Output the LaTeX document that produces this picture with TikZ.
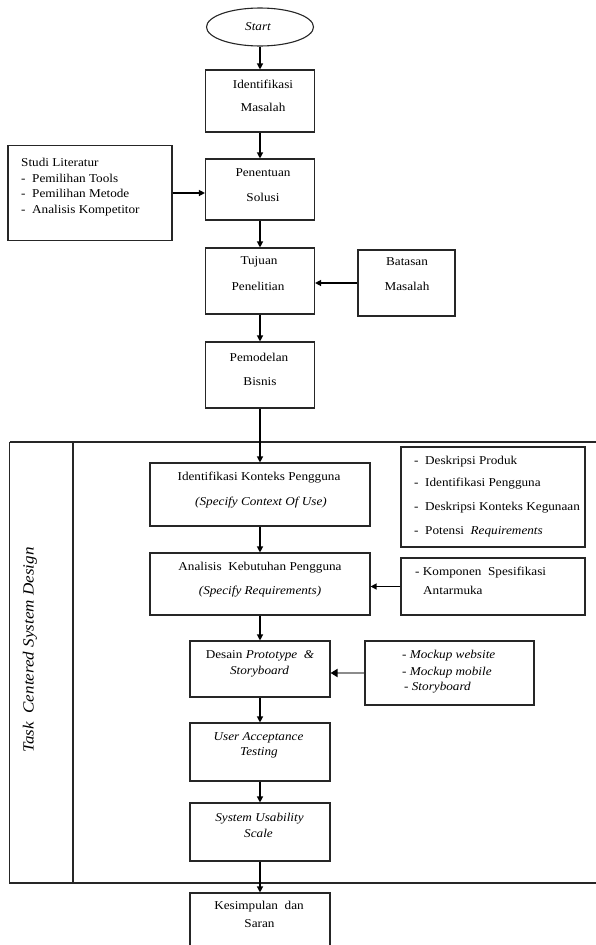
\documentclass[tikz,border=0pt]{standalone}
\usepackage{fontspec}
\setmainfont{Liberation Serif}[FakeStretch=1.1]
\usetikzlibrary{arrows.meta,shapes.geometric}
\tikzset{
  box/.style={draw=black!85, line width=1.1pt, minimum width=#1, inner sep=0pt},
  arr/.style={line width=1.2pt, -{Triangle[length=6pt,width=6pt]}},
  txt/.style={inner sep=0pt, font=\fontsize{12}{14}\selectfont},
  itxt/.style={inner sep=0pt, font=\fontsize{12}{14}\selectfont\itshape},
  ltxt/.style={inner sep=0pt, anchor=west, font=\fontsize{12}{14}\selectfont},
}
\begin{document}
\begin{tikzpicture}[x=1pt,y=-1pt]
\useasboundingbox (0,0) rectangle (596,945);
% frame
\draw[line width=1.1pt, draw=black!85] (9.5,442) -- (605,442);
\draw[line width=1.1pt, draw=black!85] (9.5,442) -- (9.5,883) -- (605,883);
\draw[line width=1.1pt, draw=black!85] (73,442) -- (73,883);
\node[inner sep=0pt, rotate=90, font=\fontsize{15.5}{18}\selectfont\itshape] (tcsd) at (30,650) {Task\ \ Centered System Design};
% boxes
\node[draw=black!85, line width=1.1pt, ellipse, minimum width=107pt, minimum height=38pt, inner sep=0pt] (start) at (260,27) {};
\node[box=109pt, minimum height=62pt] (im) at (260,101) {};
\node[box=164pt, minimum height=95pt] (studi) at (90,193) {};
\node[box=109pt, minimum height=61pt] (ps) at (260,189.5) {};
\node[box=109pt, minimum height=66pt] (tp) at (260,281) {};
\node[box=97pt, minimum height=66pt] (bm) at (406.5,283) {};
\node[box=109pt, minimum height=66pt] (pb) at (260,375) {};
\node[box=220pt, minimum height=63pt] (ikp) at (260,494.5) {};
\node[box=184pt, minimum height=100pt] (list) at (493,497) {};
\node[box=220pt, minimum height=62pt] (akp) at (260,584) {};
\node[box=184pt, minimum height=57pt] (komp) at (493,586.5) {};
\node[box=140pt, minimum height=56pt] (desain) at (260,669) {};
\node[box=169pt, minimum height=64pt] (mock) at (449.5,673) {};
\node[box=140pt, minimum height=58pt] (uat) at (260,752) {};
\node[box=140pt, minimum height=58pt] (sus) at (260,832) {};
\node[box=140pt, minimum height=67pt] (kes) at (260,926.5) {};
% texts
\node[itxt] (tstart) at (258,27) {Start};
\node[txt] (im1) at (263,84) {Identifikasi};
\node[txt] (im2) at (263,107) {Masalah};
\node[txt] (ps1) at (263,173) {Penentuan};
\node[txt] (ps2) at (263,197) {Solusi};
\node[txt] (tp1) at (259,262) {Tujuan};
\node[txt] (tp2) at (258,286) {Penelitian};
\node[txt] (bm1) at (407,262) {Batasan};
\node[txt] (bm2) at (407,286) {Masalah};
\node[txt] (pb1) at (259,357) {Pemodelan};
\node[txt] (pb2) at (260,382) {Bisnis};
\node[ltxt] (st1) at (21,162) {Studi\ Literatur};
\node[ltxt] (st2) at (21,178) {-\ \ Pemilihan\ Tools};
\node[ltxt] (st3) at (21,193) {-\ \ Pemilihan\ Metode};
\node[ltxt] (st4) at (21,211) {-\ \ Analisis\ Kompetitor};
\node[txt] (ikp1) at (259,478) {Identifikasi Konteks Pengguna};
\node[itxt] (ikp2) at (261,503) {(Specify Context Of Use)};
\node[ltxt] (l1) at (414,462) {-\ \ Deskripsi Produk};
\node[ltxt] (l2) at (414,484) {-\ \ Identifikasi Pengguna};
\node[ltxt] (l3) at (414,508) {-\ \ Deskripsi Konteks Kegunaan};
\node[ltxt] (l4) at (414,532) {-\ \ Potensi\ \ \textit{Requirements}};
\node[txt] (akp1) at (260,568) {Analisis\ \ Kebutuhan Pengguna};
\node[itxt] (akp2) at (260,592) {(Specify Requirements)};
\node[ltxt] (k1) at (415,573) {- Komponen\ \ Spesifikasi};
\node[ltxt] (k2) at (423,590) {Antarmuka};
\node[txt] (d1) at (260,656) {Desain \textit{Prototype\ \ \&}};
\node[itxt] (d2) at (259.5,672) {Storyboard};
\node[ltxt, font=\fontsize{12}{14}\selectfont\itshape] (m1) at (402,656) {- Mockup website};
\node[ltxt, font=\fontsize{12}{14}\selectfont\itshape] (m2) at (402,673) {- Mockup mobile};
\node[ltxt, font=\fontsize{12}{14}\selectfont\itshape] (m3) at (404,688) {- Storyboard};
\node[itxt] (u1) at (258.5,738) {User Acceptance};
\node[itxt] (u2) at (259,753) {Testing};
\node[itxt] (s1) at (259.5,819) {System Usability};
\node[itxt] (s2) at (258.5,833) {Scale};
\node[txt] (ks1) at (259,907) {Kesimpulan\ \ dan};
\node[txt] (ks2) at (259.5,924) {Saran};
% connectors
\draw[arr] (start) -- (im);
\draw[arr] (im) -- (ps);
\draw[arr] (studi.east) -- (studi.east -| ps.west);
\draw[arr] (ps) -- (tp);
\draw[arr] (bm.west) -- (bm.west -| tp.east);
\draw[arr] (tp) -- (pb);
\draw[arr] (pb) -- (ikp);
\draw[arr] (ikp) -- (akp);
\draw[arr] (komp.west) -- (komp.west -| akp.east);
\draw[arr] (akp) -- (desain);
\draw[line width=2.6pt, draw=black!45, -{Triangle[length=7pt,width=8pt,color=black]}] (mock.west) -- (mock.west -| desain.east);
\draw[arr] (desain) -- (uat);
\draw[arr] (uat) -- (sus);
\draw[arr] (sus) -- (kes);
\end{tikzpicture}
\end{document}
